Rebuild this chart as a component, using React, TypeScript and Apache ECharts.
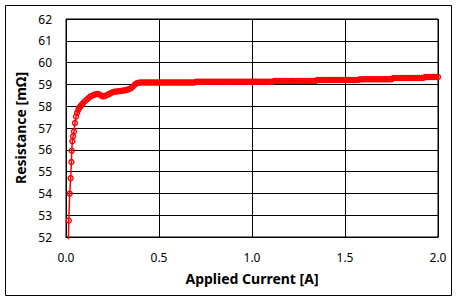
import React, { useEffect, useRef } from "react";
import * as echarts from "echarts";

const xTickLabels = ["0.0", "0.5", "1.0", "1.5", "2.0"];
const yTickLabels = ["52", "53", "54", "55", "56", "57", "58", "59", "60", "61", "62"];

const currentA = [
  0.013, 0.015, 0.020, 0.025, 0.029, 0.031, 0.034, 0.038, 0.043, 0.048, 0.054, 0.060, 0.066, 0.072, 0.078, 0.084, 0.090,
  0.10, 0.11, 0.12, 0.13, 0.14, 0.15, 0.16, 0.17, 0.18, 0.19,
  0.20, 0.21, 0.22, 0.23, 0.24, 0.25, 0.26, 0.27, 0.28, 0.29,
  0.30, 0.31, 0.32, 0.33, 0.34, 0.35, 0.36, 0.37, 0.38, 0.39,
  0.40, 0.41, 0.42, 0.43, 0.44, 0.45, 0.46, 0.47, 0.48, 0.49,
  0.50, 0.51, 0.52, 0.53, 0.54, 0.55, 0.56, 0.57, 0.58, 0.59,
  0.60, 0.61, 0.62, 0.63, 0.64, 0.65, 0.66, 0.67, 0.68, 0.69,
  0.70, 0.71, 0.72, 0.73, 0.74, 0.75, 0.76, 0.77, 0.78, 0.79,
  0.80, 0.81, 0.82, 0.83, 0.84, 0.85, 0.86, 0.87, 0.88, 0.89,
  0.90, 0.91, 0.92, 0.93, 0.94, 0.95, 0.96, 0.97, 0.98, 0.99,
  1.00, 1.01, 1.02, 1.03, 1.04, 1.05, 1.06, 1.07, 1.08, 1.09,
  1.10, 1.11, 1.12, 1.13, 1.14, 1.15, 1.16, 1.17, 1.18, 1.19,
  1.20, 1.21, 1.22, 1.23, 1.24, 1.25, 1.26, 1.27, 1.28, 1.29,
  1.30, 1.31, 1.32, 1.33, 1.34, 1.35, 1.36, 1.37, 1.38, 1.39,
  1.40, 1.41, 1.42, 1.43, 1.44, 1.45, 1.46, 1.47, 1.48, 1.49,
  1.50, 1.51, 1.52, 1.53, 1.54, 1.55, 1.56, 1.57, 1.58, 1.59,
  1.60, 1.61, 1.62, 1.63, 1.64, 1.65, 1.66, 1.67, 1.68, 1.69,
  1.70, 1.71, 1.72, 1.73, 1.74, 1.75, 1.76, 1.77, 1.78, 1.79,
  1.80, 1.81, 1.82, 1.83, 1.84, 1.85, 1.86, 1.87, 1.88, 1.89,
  1.90, 1.91, 1.92, 1.93, 1.94, 1.95, 1.96, 1.97, 1.98, 1.99,
  2.00,
];

const resistanceMOhm = [
  51.9, 52.76, 53.99, 54.70, 55.44, 55.96, 56.39, 56.62, 56.84, 57.23, 57.53, 57.70, 57.84, 57.93, 58.00, 58.07, 58.12,
  58.22, 58.30, 58.36, 58.44, 58.48, 58.52, 58.55, 58.56, 58.54, 58.48,
  58.45, 58.47, 58.51, 58.55, 58.60, 58.64, 58.66, 58.67, 58.68, 58.70,
  58.71, 58.72, 58.73, 58.76, 58.79, 58.83, 58.90, 58.99, 59.05, 59.08,
  59.09, 59.09, 59.09, 59.09, 59.09, 59.09, 59.09, 59.09, 59.09, 59.09,
  59.09, 59.09, 59.09, 59.09, 59.09, 59.09, 59.09, 59.09, 59.09, 59.09,
  59.09, 59.09, 59.09, 59.09, 59.09, 59.09, 59.09, 59.09, 59.09, 59.09,
  59.12, 59.12, 59.12, 59.12, 59.12, 59.12, 59.12, 59.12, 59.12, 59.12,
  59.12, 59.12, 59.12, 59.12, 59.12, 59.12, 59.12, 59.12, 59.12, 59.12,
  59.12, 59.12, 59.12, 59.12, 59.12, 59.12, 59.12, 59.12, 59.12, 59.12,
  59.12, 59.12, 59.12, 59.12, 59.12, 59.12, 59.12, 59.12, 59.12, 59.12,
  59.12, 59.12, 59.16, 59.16, 59.16, 59.16, 59.16, 59.16, 59.16, 59.16,
  59.16, 59.16, 59.16, 59.16, 59.16, 59.16, 59.16, 59.16, 59.16, 59.16,
  59.16, 59.16, 59.16, 59.16, 59.16, 59.20, 59.20, 59.20, 59.20, 59.20,
  59.20, 59.20, 59.20, 59.20, 59.20, 59.20, 59.20, 59.20, 59.20, 59.20,
  59.20, 59.20, 59.20, 59.20, 59.20, 59.20, 59.20, 59.20, 59.24, 59.24,
  59.24, 59.24, 59.24, 59.24, 59.24, 59.24, 59.24, 59.24, 59.24, 59.24,
  59.24, 59.24, 59.24, 59.24, 59.24, 59.24, 59.29, 59.29, 59.29, 59.29,
  59.29, 59.29, 59.29, 59.29, 59.29, 59.29, 59.29, 59.29, 59.29, 59.29,
  59.29, 59.29, 59.29, 59.34, 59.34, 59.34, 59.34, 59.34, 59.34, 59.34,
  59.34,
];

const FONT = "'Noto Sans', 'DejaVu Sans', sans-serif";

export default function App() {
  const ref = useRef<HTMLDivElement>(null);
  useEffect(() => {
    if (!ref.current) return;
    const chart = echarts.init(ref.current, undefined, { renderer: "svg" });
    const data = currentA.map((x, i) =>
      i === 0
        ? { value: [x, resistanceMOhm[i]], symbol: "none" }
        : { value: [x, resistanceMOhm[i]] }
    );
    chart.setOption({
      animation: false,
      backgroundColor: "#ffffff",
      grid: {
        left: 66,
        right: 20,
        top: 19,
        bottom: 65,
        show: true,
        borderColor: "#000",
        borderWidth: 1,
      },
      xAxis: {
        type: "value",
        min: 0,
        max: 2,
        interval: 0.5,
        name: "Applied Current [A]",
        nameLocation: "middle",
        nameGap: 34,
        nameTextStyle: { fontFamily: FONT, fontSize: 14, fontWeight: "bold", color: "#000" },
        axisLine: { show: true, lineStyle: { color: "#000", width: 1 } },
        axisTick: { show: false },
        axisLabel: {
          margin: 14,
          fontFamily: FONT,
          fontSize: 12,
          color: "#000",
          formatter: (v: number) => xTickLabels[Math.round(v / 0.5)] ?? v.toFixed(1),
        },
        splitLine: { show: true, lineStyle: { color: "#000", width: 1 } },
      },
      yAxis: {
        type: "value",
        min: 52,
        max: 62,
        interval: 1,
        name: "Resistance [mΩ]",
        nameLocation: "middle",
        nameGap: 36,
        nameTextStyle: { fontFamily: FONT, fontSize: 14, fontWeight: "bold", color: "#000" },
        axisLine: { show: true, lineStyle: { color: "#000", width: 1 } },
        axisTick: { show: false },
        axisLabel: {
          margin: 14,
          fontFamily: FONT,
          fontSize: 12,
          color: "#000",
          formatter: (v: number) => yTickLabels[Math.round(v - 52)] ?? String(v),
        },
        splitLine: { show: true, lineStyle: { color: "#000", width: 1 } },
      },
      graphic: [
        {
          type: "rect",
          shape: { x: 5.5, y: 5.5, width: 446, height: 290 },
          style: { fill: "none", stroke: "#000", lineWidth: 1 },
          silent: true,
        },
      ],
      series: [
        {
          type: "line",
          data,
          clip: false,
          symbol: "circle",
          symbolSize: 5,
          showAllSymbol: true,
          lineStyle: { color: "#ff0000", width: 1.5 },
          itemStyle: { color: "rgba(0,0,0,0)", borderColor: "#ff0000", borderWidth: 1.4 },
        },
      ],
    });
    return () => chart.dispose();
  }, []);
  return (
    <div
      ref={ref}
      style={{ position: "fixed", left: 0, top: 0, width: 458, height: 302, background: "#fff" }}
    />
  );
}
